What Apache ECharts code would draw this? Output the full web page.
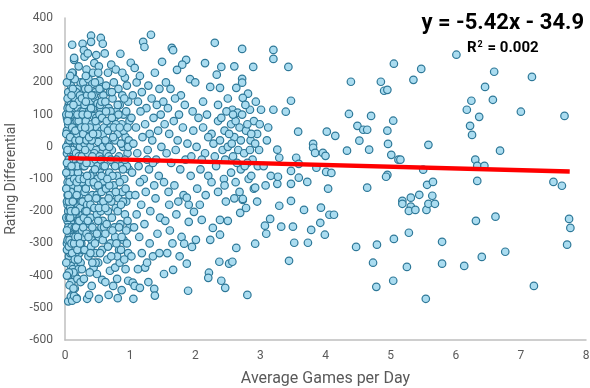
<!DOCTYPE html>
<html>
<head>
<meta charset="utf-8">
<script src="https://cdn.jsdelivr.net/npm/echarts@6/dist/echarts.min.js"></script>
<style>
  html, body { margin: 0; padding: 0; background: #ffffff; }
  #chart { width: 590px; height: 388px; }
</style>
</head>
<body>
<div id="chart"></div>
<script>
// Players who average under one game per day: [games per day, rating differential]
const lightPlayers = [
  [0.03,-20],[0.04,40],[0.05,-60],[0.03,90],[0.06,-120],[0.04,-180],[0.05,10],[0.07,-240],[0.03,-300],[0.08,60],
  [0.06,130],[0.05,-90],[0.09,-30],[0.04,-150],[0.10,20],[0.07,-200],[0.05,170],[0.11,-70],[0.08,-260],[0.06,-340],
  [0.12,110],[0.09,-110],[0.10,-160],[0.07,80],[0.13,-20],[0.11,-220],[0.08,150],[0.14,40],[0.12,-280],[0.09,190],
  [0.15,-50],[0.10,-370],[0.13,-130],[0.16,90],[0.11,-460],[0.14,-190],[0.12,230],[0.17,-90],[0.15,150],[0.13,-330],
  [0.18,10],[0.16,-250],[0.14,270],[0.19,-150],[0.17,60],[0.15,-400],[0.20,120],[0.18,-300],[0.16,-30],[0.21,-210],
  [0.19,180],[0.17,-370],[0.22,-60],[0.20,30],[0.18,-470],[0.23,90],[0.21,-120],[0.19,-260],[0.24,200],[0.22,-330],
  [0.20,-180],[0.25,-10],[0.23,-240],[0.21,140],[0.24,-90],[0.22,60],[0.25,-300],[0.11,317],[0.14,276],[0.11,230],
  [0.04,-230],[0.06,-280],[0.03,-130],[0.05,-200],[0.07,-150],[0.04,120],[0.06,60],[0.08,-10],[0.09,-80],[0.10,100],
  [0.12,-40],[0.13,70],[0.06,-40],[0.05,-250],[0.08,-330],[0.09,-370],[0.10,-420],[0.12,-380],[0.14,-240],[0.16,-140],
  [0.18,-200],[0.20,-80],[0.22,-150],[0.24,-360],[0.15,-440],[0.19,-410],[0.17,170],[0.21,250],[0.23,160],[0.25,110],
  [0.05,-480],[0.09,-465],[0.11,-478],[0.14,-463],[0.18,-472],
  [0.02,0],[0.03,50],[0.02,-80],[0.04,-110],[0.03,-170],[0.02,-220],[0.04,-260],[0.03,-320],[0.02,-360],[0.04,150],
  [0.03,200],[0.02,100],[0.06,-310],[0.07,-60],[0.08,-100],[0.06,100],[0.07,20],[0.08,-190],[0.09,130],[0.10,-250],
  [0.11,-10],[0.12,-120],[0.13,-280],[0.14,-60],[0.15,30],[0.16,-330],[0.17,-20],[0.18,80],[0.19,-60],[0.20,-130],
  [0.21,-30],[0.22,-270],[0.23,0],[0.24,50],[0.25,-170],[0.26,30],[0.27,-210],[0.28,-60],[0.29,60],[0.30,-140],
  [0.26,-110],[0.28,110],[0.27,-320],[0.29,-280],[0.30,10],[0.12,180],[0.15,210],[0.18,-350],[0.21,-380],[0.24,-420],
  [0.02,40],[0.03,-50],[0.04,-10],[0.05,70],[0.06,-170],[0.07,-110],[0.08,30],[0.09,-140],[0.10,-60],[0.11,60],
  [0.12,-210],[0.13,-170],[0.14,-100],[0.15,-250],[0.16,20],[0.17,-200],[0.18,-110],[0.19,40],[0.20,-230],[0.21,80],
  [0.22,-100],[0.23,-190],[0.24,-40],[0.25,-230],[0.02,-130],[0.03,-260],[0.04,-290],[0.05,-150],[0.06,-220],[0.07,-290],
  [0.08,-220],[0.09,-200],[0.10,-300],[0.11,-330],[0.12,-170],[0.13,-390],[0.14,-300],[0.15,-350],[0.16,-280],[0.17,-250],
  [0.18,-150],[0.19,-320],[0.20,-280],[0.22,-230],[0.23,-300],[0.26,-260],[0.28,-170],[0.29,-220],[0.04,80],[0.07,120],
  [0.10,160],[0.13,130],[0.16,50],[0.19,100],[0.22,20],[0.25,60],[0.28,150],[0.08,220],[0.06,-390],[0.07,-430],
  [0.03,-400],[0.13,-440],[0.16,-200],[0.20,-350],
  [0.27,320],[0.30,280],[0.40,345],[0.40,326],[0.55,338],[0.58,320],[0.29,300],[0.35,290],[0.48,285],[0.45,260],
  [0.33,240],[0.52,250],[0.28,200],[0.31,180],[0.36,210],[0.42,195],[0.47,170],[0.53,205],[0.57,185],[0.26,150],
  [0.30,130],[0.34,160],[0.38,140],[0.43,120],[0.46,150],[0.50,135],[0.55,110],[0.59,160],[0.27,100],[0.32,80],
  [0.37,110],[0.41,70],[0.44,95],[0.49,60],[0.52,85],[0.56,50],[0.28,40],[0.33,20],[0.36,55],[0.39,0],
  [0.45,30],[0.48,-10],[0.51,15],[0.58,40],[0.26,-30],[0.30,-60],[0.35,-20],[0.40,-50],[0.43,-80],[0.47,-40],
  [0.54,-70],[0.57,-20],[0.29,-100],[0.32,-130],[0.37,-110],[0.42,-150],[0.46,-120],[0.50,-100],[0.53,-140],[0.59,-110],
  [0.27,-170],[0.31,-200],[0.34,-180],[0.39,-220],[0.44,-190],[0.49,-210],[0.55,-170],[0.58,-230],[0.28,-250],[0.33,-270],
  [0.38,-240],[0.41,-290],[0.45,-260],[0.52,-280],[0.56,-250],[0.30,-320],[0.36,-340],[0.40,-310],[0.47,-330],[0.51,-360],
  [0.57,-320],[0.29,-410],[0.34,-472],[0.37,-460],[0.41,-432],[0.49,-395],[0.52,-472],[0.57,-413],[0.44,-375],[0.26,-380],
  [0.31,-10],[0.33,-50],[0.35,100],[0.36,-160],[0.38,60],[0.39,-90],[0.41,20],[0.42,-250],[0.44,160],[0.45,-20],
  [0.46,-300],[0.48,90],[0.49,-150],[0.50,40],[0.51,-230],[0.53,-30],[0.54,130],[0.55,-200],[0.56,-90],[0.58,0],
  [0.59,-170],[0.60,60],[0.32,220],[0.38,-390],[0.43,230],[0.47,-360],[0.53,180],[0.58,-290],[0.35,-230],[0.40,120],
  [0.44,-110],[0.50,-60],[0.54,-330],[0.60,-130],
  [0.31,60],[0.34,-90],[0.37,30],[0.39,-180],[0.42,-30],[0.43,40],[0.46,-70],[0.47,80],[0.49,-270],[0.51,-120],
  [0.53,100],[0.55,-40],[0.57,90],[0.59,-60],[0.33,-200],[0.36,-280],[0.39,-330],[0.42,-360],[0.45,-190],[0.48,-160],
  [0.52,-190],[0.56,-140],[0.60,-250],[0.32,140],[0.36,180],[0.41,160],[0.46,200],[0.51,230],[0.56,140],
  [0.61,290],[0.71,255],[0.85,289],[0.66,230],[0.78,240],[0.92,215],[0.63,190],[0.69,170],[0.75,200],[0.82,180],
  [0.88,160],[0.95,190],[0.62,140],[0.67,120],[0.73,150],[0.79,110],[0.84,130],[0.90,100],[0.97,140],[0.64,80],
  [0.70,60],[0.76,90],[0.81,40],[0.87,70],[0.93,30],[0.99,80],[0.65,10],[0.72,-10],[0.77,20],[0.83,-30],
  [0.89,0],[0.96,-20],[0.61,-60],[0.68,-80],[0.74,-50],[0.80,-90],[0.86,-60],[0.91,-100],[0.98,-70],[0.63,-130],
  [0.69,-150],[0.75,-120],[0.82,-160],[0.88,-140],[0.94,-170],[0.66,-200],[0.72,-220],[0.78,-190],[0.85,-240],[0.92,-210],
  [0.99,-250],[0.62,-270],[0.70,-300],[0.77,-280],[0.83,-320],[0.90,-290],[0.97,-330],[0.69,-385],[0.77,-375],[0.84,-360],
  [0.74,-432],[0.87,-445],[0.97,-416],[0.91,-350],[0.65,-350],[0.80,-410],
  [0.62,20],[0.64,-20],[0.66,50],[0.68,-120],[0.70,110],[0.71,-170],[0.73,-90],[0.74,30],[0.76,-250],[0.78,70],
  [0.79,-40],[0.81,-200],[0.82,100],[0.84,-110],[0.86,10],[0.87,-280],[0.89,-170],[0.90,50],[0.93,-130],[0.94,110],
  [0.95,-60],[0.96,-230],[0.98,20],[0.99,-150],[0.64,-240],[0.72,170],[0.80,-340],[0.88,230],[0.95,-300],[0.67,-30],
  [0.62,-190],[0.65,-100],[0.67,-160],[0.70,-40],[0.73,-260],[0.75,60],[0.78,-140],[0.81,130],[0.83,-250],[0.86,-180],
  [0.89,-70],[0.92,-40],[0.94,-260],[0.97,0],[0.63,110],[0.68,0],[0.72,90],[0.77,-60],[0.84,60],[0.91,150],
  [0.96,60],[0.66,-310],[0.71,-340],[0.79,-300],[0.86,-320],[0.93,-380],[0.62,-420],[0.67,-460],[0.81,-470]
];

// One to three games per day
const regularPlayers = [
  [1.01,261],[1.07,245],[1.20,326],[1.22,310],[1.32,348],[1.49,264],[1.10,200],[1.15,220],[1.28,190],[1.38,230],
  [1.45,180],[1.04,160],[1.12,140],[1.18,170],[1.25,120],[1.33,150],[1.41,130],[1.47,100],[1.02,90],[1.09,60],
  [1.16,110],[1.23,70],[1.30,40],[1.36,90],[1.43,50],[1.05,10],[1.11,-20],[1.19,30],[1.27,-10],[1.34,20],
  [1.40,-40],[1.48,0],[1.03,-80],[1.13,-60],[1.21,-100],[1.29,-70],[1.37,-120],[1.44,-90],[1.08,-150],[1.17,-180],
  [1.24,-140],[1.31,-200],[1.39,-160],[1.46,-220],[1.06,-250],[1.14,-280],[1.22,-240],[1.30,-300],[1.42,-270],[1.04,-422],
  [1.07,-432],[1.15,-438],[1.05,-472],[1.37,-441],[1.38,-462],[1.23,-375],[1.26,-360],[1.18,-330],[1.35,-340],[1.45,-330],
  [1.12,-380],[1.28,-420],[1.02,-340],[1.15,-110],[1.26,-40],[1.35,-50],[1.10,-210],
  [1.64,307],[1.66,300],[1.86,270],[1.80,255],[1.72,239],[1.55,200],[1.62,180],[1.78,160],[1.92,210],[1.51,140],
  [1.58,120],[1.69,150],[1.75,100],[1.84,130],[1.96,110],[1.53,70],[1.60,40],[1.67,80],[1.73,20],[1.81,60],
  [1.88,10],[1.97,50],[1.56,-20],[1.63,-50],[1.70,-10],[1.77,-70],[1.85,-40],[1.93,-90],[1.52,-110],[1.59,-140],
  [1.68,-120],[1.74,-170],[1.82,-150],[1.90,-180],[1.98,-202],[1.87,-158],[1.54,-230],[1.61,-260],[1.71,-210],[1.79,-280],
  [1.90,-233],[1.83,-301],[1.95,-311],[1.52,-395],[1.66,-382],[1.87,-363],[1.89,-447],[1.57,-330],[1.76,-340],[1.65,-300],
  [1.94,-30],[1.60,-180],
  [2.30,323],[2.72,304],[2.89,248],[2.40,248],[2.33,224],[2.72,211],[2.72,199],[2.23,186],[2.38,183],[2.63,183],
  [2.81,165],[2.73,152],[2.93,140],[3.01,115],[2.84,115],[2.57,115],[2.65,106],[2.07,-180],[2.10,-227],[2.38,-227],
  [2.50,-230],[2.27,-252],[2.38,-273],[2.23,-289],[2.01,-289],[2.73,-165],[2.69,-205],[2.63,-314],[2.92,-301],[2.37,-357],
  [2.52,-363],[2.57,-357],[2.21,-391],[2.20,-407],[2.40,-416],[2.46,-438],[2.80,-460],
  [2.05,90],[2.12,60],[2.18,100],[2.25,40],[2.35,80],[2.45,50],[2.55,70],[2.60,30],[2.68,60],[2.78,50],
  [2.85,20],[2.95,40],[2.02,0],[2.15,-20],[2.28,10],[2.42,-10],[2.50,0],[2.58,-30],[2.66,-10],[2.75,-20],
  [2.88,-40],[2.98,-10],[2.08,-70],[2.20,-90],[2.32,-60],[2.44,-100],[2.55,-80],[2.62,-110],[2.70,-70],[2.82,-100],
  [2.90,-130],[2.03,-130],[2.16,-150],[2.35,-140],[2.47,-170],[2.60,-160],[2.78,-190],[2.95,-170],[2.12,140],[2.50,150],
  [2.90,80],[2.10,-40],[2.48,110],[2.80,-50],[2.00,200],[2.15,260],[2.60,250],[2.92,-127],[2.73,-162],
  [2.20,30],[2.30,-30],[2.38,20],[2.40,90],[2.46,-40],[2.52,40],[2.56,10],[2.62,80],[2.64,-50],[2.70,20],
  [2.72,100],[2.76,-60],[2.80,70],[2.84,-10],[2.86,40],[2.92,10],[2.96,-60],[2.58,100],[2.45,-120],[2.68,-140],
  [2.25,-110],[2.86,-90],[2.35,130],[2.77,130],[2.99,70]
];

// Three or more games per day
const heavyPlayers = [
  [3.20,301],[3.20,273],[3.43,248],[3.47,143],[3.20,115],[3.39,109],[3.58,47],[3.26,-9],[3.29,-34],[3.55,-34],
  [3.59,-53],[3.47,-75],[3.59,-96],[3.72,-109],[3.47,-115],[3.26,-115],[3.16,-90],[3.27,-93],[3.81,9],[3.81,-3],
  [3.84,-19],[3.96,-19],[4.00,-28],[3.86,-65],[4.01,-78],[4.09,-81],[4.02,47],[4.15,34],[4.04,-130],[3.29,-183],
  [3.47,-168],[3.67,-196],[3.93,-189],[4.06,-211],[4.13,-211],[3.15,-224],[3.07,-245],[3.32,-248],[3.50,-248],[3.09,-270],
  [3.78,-258],[3.92,-236],[3.99,-273],[3.52,-298],[3.73,-298],[3.44,-354],[4.39,202],[4.85,202],[4.90,174],[4.95,177],
  [5.05,258],[4.36,102],[4.70,96],[4.49,65],[4.58,53],[4.64,53],[5.04,81],[4.95,50],[4.96,9],[5.01,-25],
  [4.52,19],[4.67,-9],[4.33,-12],[4.95,-87],[4.93,-93],[4.64,-127],[5.12,-40],[4.47,-311],[4.79,-304],[5.05,-286],
  [4.73,-360],[4.78,-435],[5.04,-416],[5.47,242],[5.35,208],[6.01,286],[6.59,233],[7.17,217],[6.45,186],[6.24,143],
  [6.57,146],[6.17,115],[6.36,93],[7.00,109],[7.67,96],[6.22,65],[6.25,37],[5.58,6],[6.68,-12],[5.15,-40],
  [6.30,-40],[6.33,-59],[6.44,-59],[5.50,-71],[6.33,-106],[7.50,-109],[7.63,-121],[5.56,-118],[5.65,-109],[5.44,-149],
  [5.64,-152],[5.31,-158],[5.18,-168],[5.18,-177],[5.31,-186],[5.28,-199],[5.38,-196],[5.55,-196],[5.58,-177],[5.68,-177],
  [6.31,-230],[6.61,-217],[7.74,-224],[7.76,-252],[7.71,-304],[5.28,-267],[5.79,-295],[6.76,-326],[6.40,-342],[5.79,-363],
  [6.13,-370],[5.25,-373],[7.20,-432],[5.54,-472],
  [3.05,-60],[3.10,20],[3.08,-120],[3.12,60]
];

// Least-squares fit shown in the corner
const slope = -5.42;
const intercept = -34.9;
const fitRange = [0.05, 7.75];
const equationText = 'y = -5.42x - 34.9';
const rSquaredText = '0.002';

const xTicks = { min: 0, max: 8, interval: 1 };
const yTicks = { min: -600, max: 400, interval: 100 };

const chart = echarts.init(document.getElementById('chart'), null, { renderer: 'canvas' });
const axisGray = '#595959';
const font = 'Roboto, "Liberation Sans", sans-serif';

chart.setOption({
  animation: false,
  backgroundColor: '#ffffff',
  grid: { left: 65, right: 4, top: 18, bottom: 48, containLabel: false, outerBoundsMode: 'none' },
  xAxis: {
    type: 'value',
    min: xTicks.min, max: xTicks.max, interval: xTicks.interval,
    name: 'Average Games per Day',
    nameLocation: 'middle',
    nameGap: 31,
    nameTextStyle: { color: axisGray, fontSize: 16, fontFamily: font },
    axisLine: { show: true, onZero: false, lineStyle: { color: '#bfbfbf', width: 1.5 } },
    axisTick: { show: false },
    splitLine: { show: false },
    axisLabel: { color: axisGray, fontSize: 12, fontFamily: font, margin: 10 }
  },
  yAxis: {
    type: 'value',
    min: yTicks.min, max: yTicks.max, interval: yTicks.interval,
    name: 'Rating Differential',
    nameLocation: 'middle',
    nameGap: 36,
    nameTextStyle: { color: axisGray, fontSize: 14, fontFamily: font },
    axisLine: { show: true, lineStyle: { color: '#bfbfbf', width: 1.5 } },
    axisTick: { show: false },
    splitLine: { show: false },
    axisLabel: { color: axisGray, fontSize: 12, fontFamily: font, margin: 12 }
  },
  series: [
    {
      type: 'scatter',
      data: lightPlayers.concat(regularPlayers, heavyPlayers),
      symbol: 'circle',
      symbolSize: 7.5,
      itemStyle: { color: '#aadcf0', borderColor: '#2e7898', borderWidth: 1.2, opacity: 1 }
    },
    {
      type: 'line',
      data: fitRange.map(x => [x, slope * x + intercept]),
      symbol: 'none',
      lineStyle: { color: '#ff0000', width: 4.5 },
      z: 5
    }
  ],
  graphic: [
    {
      type: 'text', right: 6, top: 12,
      style: { text: equationText, fill: '#000', font: 'bold 22px ' + font, textAlign: 'right' }
    },
    {
      type: 'text', left: 467, top: 40,
      style: {
        text: '{b|R}{s|2}{b| = ' + rSquaredText + '}',
        rich: {
          b: { fill: '#000', font: 'bold 15px ' + font },
          s: { fill: '#000', font: 'bold 9px ' + font, verticalAlign: 'top', padding: [0, 1, 8, 1] }
        }
      }
    }
  ]
});
</script>
</body>
</html>
